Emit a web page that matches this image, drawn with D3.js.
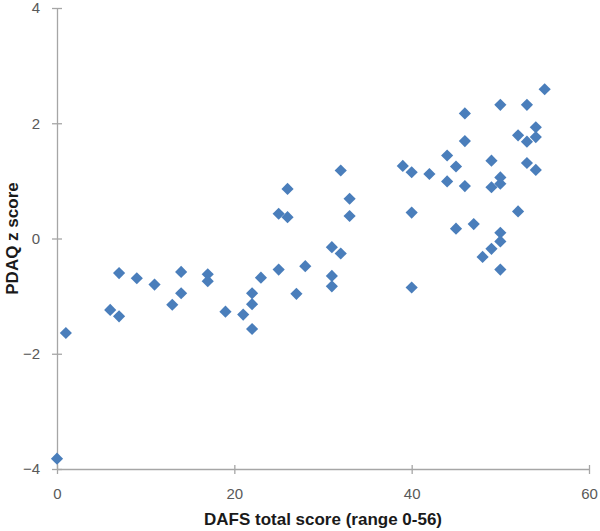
<!DOCTYPE html>
<html><head><meta charset="utf-8">
<script src="https://cdn.jsdelivr.net/npm/d3@7"></script>
<style>body{margin:0;background:#fff}svg{display:block}</style>
</head><body><svg id="c" width="600" height="531"></svg>
<script>
const dafs = [0,1,6,7,7,9,11,13,14,14,17,17,19,21,22,22,22,23,25,25,26,26,27,28,31,32,31,31,32,33,33,39,40,42,40,40,44,45,44,46,46,46,45,47,49,50,49,50,52,50,50,49,48,50,50,53,55,54,52,53,54,53,54];
const pdaq = [-3.82,-1.64,-1.24,-1.35,-0.60,-0.69,-0.80,-1.15,-0.58,-0.95,-0.62,-0.74,-1.27,-1.32,-0.95,-1.14,-1.57,-0.68,-0.54,0.43,0.37,0.86,-0.96,-0.48,-0.15,-0.26,-0.65,-0.83,1.18,0.69,0.39,1.26,1.15,1.12,0.45,-0.85,1.44,1.25,0.99,0.91,2.17,1.69,0.17,0.25,1.35,1.06,0.89,0.95,0.47,0.10,-0.05,-0.18,-0.32,-0.54,2.32,2.32,2.59,1.93,1.79,1.68,1.76,1.31,1.19];
const xTicks = [0,20,40,60];
const yTicks = [-4,-2,0,2,4];
const xTitle = "DAFS total score (range 0-56)";
const yTitle = "PDAQ z score";

const svg = d3.select("#c");
const x = d3.scaleLinear().domain([0,60]).range([57,589]);
const y = d3.scaleLinear().domain([-4,4]).range([469,8]);
const axisCol = "#a6a6a6", txtCol = "#595959", font = "'Liberation Sans', Arial, sans-serif";

const gx = svg.append("g").attr("transform",`translate(0,${y(-4)})`)
  .call(d3.axisBottom(x).tickValues(xTicks).tickSizeInner(5).tickSizeOuter(0).tickPadding(14));
gx.selectAll(".tick line").attr("y1",-4);
const gy = svg.append("g").attr("transform",`translate(${x(0)},0)`)
  .call(d3.axisLeft(y).tickValues(yTicks).tickSizeInner(5).tickSizeOuter(0).tickPadding(12));
gy.selectAll(".tick line").attr("x1",5);
[gx,gy].forEach(g=>{
  g.select(".domain").attr("stroke",axisCol).attr("stroke-width",1.3);
  g.selectAll(".tick line").attr("stroke",axisCol).attr("stroke-width",1.3);
  g.selectAll(".tick text").attr("fill",txtCol).style("font-family",font).style("font-size","15px");
});

const pts = dafs.map((d,i)=>({x:d,y:pdaq[i]}));
const sym = d3.symbol(d3.symbolSquare, 74);
svg.append("g").selectAll("path").data(pts).join("path")
  .attr("d", sym)
  .attr("transform", d=>`translate(${x(d.x)},${y(d.y)}) rotate(45)`)
  .attr("fill","#4a7ebb");

svg.append("text").attr("x",(x(0)+x(60))/2).attr("y",525).attr("text-anchor","middle")
  .style("font-family",font).style("font-size","17px").style("font-weight","bold").attr("fill","#1a1a1a").text(xTitle);
svg.append("text").attr("transform",`translate(18,${(y(-4)+y(4))/2}) rotate(-90)`).attr("text-anchor","middle")
  .style("font-family",font).style("font-size","17px").style("font-weight","bold").attr("fill","#1a1a1a").text(yTitle);
</script></body></html>
